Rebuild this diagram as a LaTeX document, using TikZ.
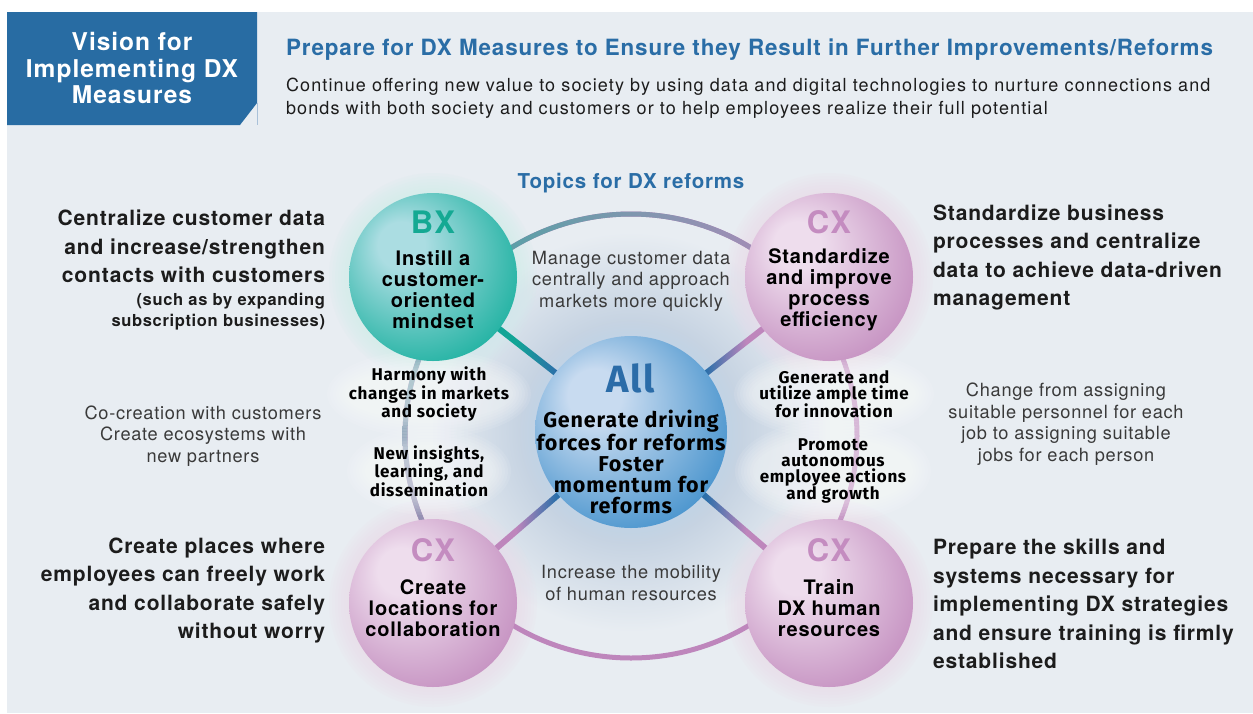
\documentclass[tikz,border=0pt]{standalone}
\usepackage{fontspec}
\setmainfont{TeX Gyre Heros}[LetterSpace=4]
\newfontfamily\hum{Fira Sans}[LetterSpace=4]
\usetikzlibrary{calc}
\definecolor{bg}{HTML}{E8EDF2}
\definecolor{titleblue}{HTML}{286CA3}
\definecolor{thinline}{HTML}{A9C1D9}
\definecolor{titletxt}{HTML}{2A6DA6}
\definecolor{dark}{HTML}{1C1C1C}
\definecolor{lighttxt}{HTML}{3A3A3A}
\definecolor{tealL}{HTML}{ABDDE2}
\definecolor{tealD}{HTML}{00A893}
\definecolor{pinkL}{HTML}{EEDDED}
\definecolor{pinkD}{HTML}{BC80B7}
\definecolor{blueL}{HTML}{C8DBF0}
\definecolor{blueD}{HTML}{2A83C5}
\definecolor{glowC}{HTML}{C2D0E0}
\definecolor{haloT}{HTML}{D2ECEB}
\definecolor{haloP}{HTML}{E9DDEA}
\definecolor{ringP}{HTML}{BE86BC}
\definecolor{ringT}{HTML}{3EA7A1}
\definecolor{ringG}{HTML}{A6B3C8}
\definecolor{tealS}{HTML}{12A596}
\definecolor{pinkS}{HTML}{BE86BC}
\definecolor{blueS}{HTML}{2C6FA9}
\definecolor{bxcol}{HTML}{14A993}
\definecolor{cxcol}{HTML}{C48CC0}
\definecolor{allcol}{HTML}{2B6CA8}
\pgfdeclareradialshading{ballteal}{\pgfpoint{-11bp}{11bp}}{color(0bp)=(tealL); color(7bp)=(tealL); color(38bp)=(tealD); color(50bp)=(tealD)}
\pgfdeclareradialshading{ballpink}{\pgfpoint{-11bp}{11bp}}{color(0bp)=(pinkL); color(7bp)=(pinkL); color(38bp)=(pinkD); color(50bp)=(pinkD)}
\pgfdeclareradialshading{ballblue}{\pgfpoint{-11bp}{11bp}}{color(0bp)=(blueL); color(7bp)=(blueL); color(38bp)=(blueD); color(50bp)=(blueD)}
\pgfdeclareradialshading{allglow}{\pgfpointorigin}{color(0bp)=(glowC); color(12.5bp)=(glowC); color(25bp)=(bg); color(50bp)=(bg)}
\pgfdeclarehorizontalshading{spokeTB}{100bp}{color(0bp)=(tealS); color(46bp)=(tealS); color(56bp)=(blueS); color(100bp)=(blueS)}
\pgfdeclarehorizontalshading{spokePB}{100bp}{color(0bp)=(pinkS); color(46bp)=(pinkS); color(56bp)=(blueS); color(100bp)=(blueS)}
\pgfdeclarehorizontalshading{spokeBP}{100bp}{color(0bp)=(blueS); color(44bp)=(blueS); color(54bp)=(pinkS); color(100bp)=(pinkS)}
\pgfdeclarelayer{base}
\pgfdeclarelayer{halo}
\pgfdeclarelayer{lines}
\pgfdeclarelayer{glowlayer}
\pgfsetlayers{base,halo,lines,glowlayer,main}
\newcommand\fsz[2]{\fontsize{#1}{#2}\selectfont}
\begin{document}
\begin{tikzpicture}[x=1pt,y=-1pt,
  every node/.style={inner sep=0pt, outer sep=0pt},
  ball/.style={circle, minimum size=168pt, shade},
  bigtxt/.style={text=dark, font=\bfseries\fsz{21}{28.4}},
  lighttext/.style={text=lighttxt, align=center, font=\fsz{18.2}{21.5}},
  balltxt/.style={text=black, align=center, font=\bfseries\fsz{20}{21}},
  tag/.style={font=\bfseries\fsz{31}{31}},
  lab/.style={text=black, align=center, font=\hum\bfseries\fsz{17}{16}},
]
\useasboundingbox (0,0) rectangle (1253,713);

% circles
\node[ball, shading=ballteal] (BX) at (433,277) {};
\node[ball, shading=ballpink] (CXa) at (829,277) {};
\node[ball, shading=ballpink] (CXb) at (433,603) {};
\node[ball, shading=ballpink] (CXc) at (829,603) {};
\node[circle, minimum size=192pt, shade, shading=ballblue] (All) at (631,432) {};
\coordinate (ringc) at (631,436);

\begin{pgfonlayer}{base}
  \fill[white] (0,0) rectangle (1253,713);
  \fill[bg] (7,12) rectangle (1253,713);
  \fill[titleblue] (7,12) -- (257,12) -- (257,103) -- (240,125) -- (7,125) -- cycle;
  \draw[thinline, line width=0.8pt] (257,103) -- (257,125);
  \shade[shading=allglow] (All.center) circle (200pt);
\end{pgfonlayer}

\begin{pgfonlayer}{halo}
  \foreach \n/\c in {BX/haloT, CXa/haloP, CXb/haloP, CXc/haloP}{
    \foreach \r in {86,89,...,104}{
      \fill[\c, opacity=0.15] (\n.center) circle (\r pt);
    }
  }
  \foreach \r in {98,101,...,110}{
    \fill[blueL, opacity=0.12] (All.center) circle (\r pt);
  }
\end{pgfonlayer}

\begin{pgfonlayer}{lines}
  % ring
  \draw[ringP, line width=5pt] (ringc) ellipse [x radius=226pt, y radius=222pt];
  \begin{scope}
    \clip (380,185) rectangle (880,262);
    \shade[left color=ringT, right color=ringP, even odd rule]
      (ringc) ellipse [x radius=228.5pt, y radius=224.5pt]
      (ringc) ellipse [x radius=223.5pt, y radius=219.5pt];
  \end{scope}
  \begin{scope}
    \clip (380,300) rectangle (460,575);
    \shade[top color=ringT, middle color=ringG, bottom color=ringP, even odd rule]
      (ringc) ellipse [x radius=228.5pt, y radius=224.5pt]
      (ringc) ellipse [x radius=223.5pt, y radius=219.5pt];
  \end{scope}
  % spokes
  \shade[shading=spokeTB] ($(BX.center)!3pt!90:(All.center)$) -- ($(BX.center)!3pt!-90:(All.center)$)
     -- ($(All.center)!3pt!90:(BX.center)$) -- ($(All.center)!3pt!-90:(BX.center)$) -- cycle;
  \shade[shading=spokePB] ($(CXb.center)!3pt!90:(All.center)$) -- ($(CXb.center)!3pt!-90:(All.center)$)
     -- ($(All.center)!3pt!90:(CXb.center)$) -- ($(All.center)!3pt!-90:(CXb.center)$) -- cycle;
  \shade[shading=spokeBP] ($(CXa.center)!3pt!90:(All.center)$) -- ($(CXa.center)!3pt!-90:(All.center)$)
     -- ($(All.center)!3pt!90:(CXa.center)$) -- ($(All.center)!3pt!-90:(CXa.center)$) -- cycle;
  \shade[shading=spokeBP] ($(CXc.center)!3pt!90:(All.center)$) -- ($(CXc.center)!3pt!-90:(All.center)$)
     -- ($(All.center)!3pt!90:(CXc.center)$) -- ($(All.center)!3pt!-90:(CXc.center)$) -- cycle;
\end{pgfonlayer}

% header
\node[text=white, align=center, font=\bfseries\fsz{24.5}{26.5}] (vision) at (132,68) {Vision for\\Implementing DX\\Measures};
\node[anchor=west, text=titletxt, font=\bfseries\fsz{22.4}{26}] (ptitle) at (286,50) {Prepare for DX Measures to Ensure they Result in Further Improvements/Reforms};
\node[anchor=west, align=left, text=dark, font=\fsz{18}{23}\addfontfeatures{LetterSpace=6.3}] (intro) at (286,98.5) {Continue offering new value to society by using data and digital technologies to nurture connections and\\bonds with both society and customers or to help employees realize their full potential};
\node[text=titletxt, font=\bfseries\fsz{20.5}{22}] (topics) at (631,183) {Topics for DX reforms};

% circle contents
\node[tag, text=bxcol] (bxt) at (433,222) {BX};
\node[balltxt] (bxd) at (433,290) {Instill a\\customer-\\oriented\\mindset};
\node[tag, text=cxcol] (cxat) at (829,222) {CX};
\node[balltxt] (cxad) at (829,290) {Standardize\\and improve\\process\\efficiency};
\node[tag, text=cxcol] (cxbt) at (433,550) {CX};
\node[balltxt] (cxbd) at (433,608) {Create\\locations for\\collaboration};
\node[tag, text=cxcol] (cxct) at (829,550) {CX};
\node[balltxt] (cxcd) at (829,608) {Train\\DX human\\resources};
\node[text=allcol, font=\hum\bfseries\fsz{38}{38}] (allt) at (631,378) {All};
\node[text=black, align=center, font=\hum\bfseries\fsz{21.5}{21}] (alld) at (631,462) {Generate driving\\forces for reforms\\Foster\\momentum for\\reforms};

% labels between circles
\node[lighttext] (manage) at (631,281) {Manage customer data\\centrally and approach\\markets more quickly};
\node[lighttext] (mobility) at (631,583) {Increase the mobility\\of human resources};
\node[lab] (harmony) at (429,394) {Harmony with\\changes in markets\\and society};
\node[lab] (insights) at (429,471) {New insights,\\learning, and\\dissemination};
\node[lab] (generate) at (834,394) {Generate and\\utilize ample time\\for innovation};
\node[lab] (promote) at (833,471) {Promote\\autonomous\\employee actions\\and growth};

\begin{pgfonlayer}{glowlayer}
  \foreach \n/\w/\h in {harmony/84/26, insights/64/26, generate/82/26, promote/80/33}{
    \foreach \k in {0,3,...,18}{
      \fill[white, opacity=0.09] (\n.center) ellipse [x radius=\w pt+\k pt, y radius=\h pt+\k pt];
    }
  }
\end{pgfonlayer}

% side texts
\node[bigtxt, anchor=east, align=right] (left1) at (325,246.5) {Centralize customer data\\and increase/strengthen\\contacts with customers};
\node[anchor=east, align=right, text=dark, font=\bfseries\fsz{16.5}{21}] (left1b) at (325,311.5) {(such as by expanding\\subscription businesses)};
\node[lighttext] (cocre) at (203,436) {Co-creation with customers\\Create ecosystems with\\new partners};
\node[bigtxt, anchor=east, align=right] (left2) at (325,590.5) {Create places where\\employees can freely work\\and collaborate safely\\without worry};
\node[bigtxt, anchor=west, align=left] (right1) at (933,257.5) {Standardize business\\processes and centralize\\data to achieve data-driven\\management};
\node[lighttext] (change) at (1066,424) {Change from assigning\\suitable personnel for each\\job to assigning suitable\\jobs for each person};
\node[bigtxt, anchor=west, align=left] (right2) at (933,604) {Prepare the skills and\\systems necessary for\\implementing DX strategies\\and ensure training is firmly\\established};
\end{tikzpicture}
\end{document}
